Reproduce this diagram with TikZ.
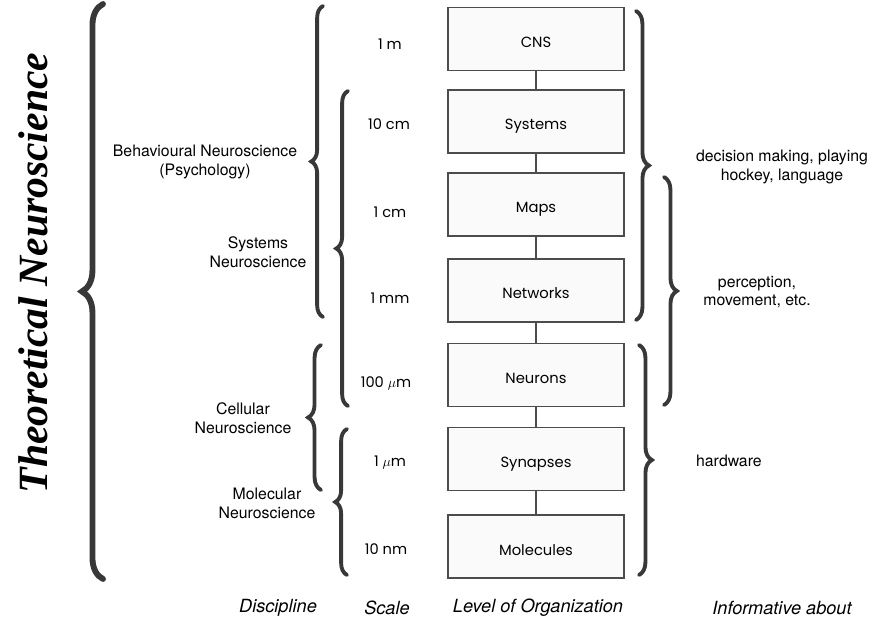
\documentclass[tikz,border=0pt]{standalone}
\usepackage{fontspec}
\newfontfamily\helv{TeX Gyre Heros}
\newfontfamily\geo{Poppins}
\newfontfamily\titlefont{Liberation Serif}
\usetikzlibrary{decorations.pathreplacing}

\begin{document}
\begin{tikzpicture}[x=0.03cm,y=-0.03cm,
  level/.style={draw=black!70,line width=1.1pt,fill=black!2,minimum width=5.28cm,minimum height=1.89cm,text height=14.5pt,text depth=0pt,font=\geo\fontsize{12.6}{14}\selectfont},
  scl/.style={font=\geo\fontsize{12.5}{14}\selectfont},
  lbl/.style={align=center,font=\helv\fontsize{13.5}{16}\selectfont},
  head/.style={font=\helv\itshape\fontsize{15.5}{18}\selectfont},
  curly/.style={decorate,decoration={brace,amplitude=#1},line width=3.3pt,draw=black!78,line cap=round},
  link/.style={draw=black!70,line width=1.1pt}
]
\useasboundingbox (0,0) rectangle (878,623);

% levels of organization
\node[level] (cns) at (536,39) {CNS};
\node[level] (systems) at (536,121.5) {Systems};
\node[level] (maps) at (536,204.5) {Maps};
\node[level] (networks) at (536,290.5) {Networks};
\node[level] (neurons) at (536,375) {Neurons};
\node[level] (synapses) at (536,459) {Synapses};
\node[level] (molecules) at (536,546.5) {Molecules};
\draw[link] (cns) -- (systems);
\draw[link] (systems) -- (maps);
\draw[link] (maps) -- (networks);
\draw[link] (networks) -- (neurons);
\draw[link] (neurons) -- (synapses);
\draw[link] (synapses) -- (molecules);

% scale
\node[scl] (s1) at (390,44) {1 m};
\node[scl] (s2) at (389,124) {10 cm};
\node[scl] (s3) at (390,212) {1 cm};
\node[scl] (s4) at (390,298) {1 mm};
\node[scl] (s5) at (386,383) {100 $\mu$m};
\node[scl] (s6) at (390,463) {1 $\mu$m};
\node[scl] (s7) at (386,549) {10 nm};

% discipline braces
\draw[curly=18pt,line width=5pt] (103,579) -- (103,4); % theoretical
\draw[curly=10pt] (323,317) -- (323,6);
\draw[curly=10pt] (348,406) -- (348,91);
\draw[curly=11pt] (321,490) -- (321,345);
\draw[curly=10pt] (347,575) -- (347,429);
\node[rotate=90,font=\titlefont\bfseries\itshape\fontsize{35.5}{40}\selectfont] (theo) at (33,273) {Theoretical Neuroscience};
\node[lbl] (behav) at (205,162) {Behavioural Neuroscience\\(Psychology)};
\node[lbl] (sysneuro) at (258,252) {Systems\\Neuroscience};
\node[lbl] (cell) at (243,418) {Cellular\\Neuroscience};
\node[lbl] (mol) at (267,503) {Molecular\\Neuroscience};

% informative braces
\draw[curly=11pt] (636,11) -- (636,320);
\draw[curly=11pt] (664,177) -- (664,405);
\draw[curly=11pt] (639,345) -- (639,575);
\node[lbl] (decide) at (782,167) {decision making, playing\\hockey, language};
\node[lbl] (percep) at (757,292) {perception,\\movement, etc.};
\node[lbl,anchor=west] (hard) at (692,461) {hardware};

% column titles
\node[head] (hdisc) at (278,608) {Discipline};
\node[head] (hscale) at (387,608) {Scale};
\node[head] (hlevel) at (538,608) {Level of Organization};
\node[head] (hinfo) at (782,608) {Informative about};
\end{tikzpicture}
\end{document}
